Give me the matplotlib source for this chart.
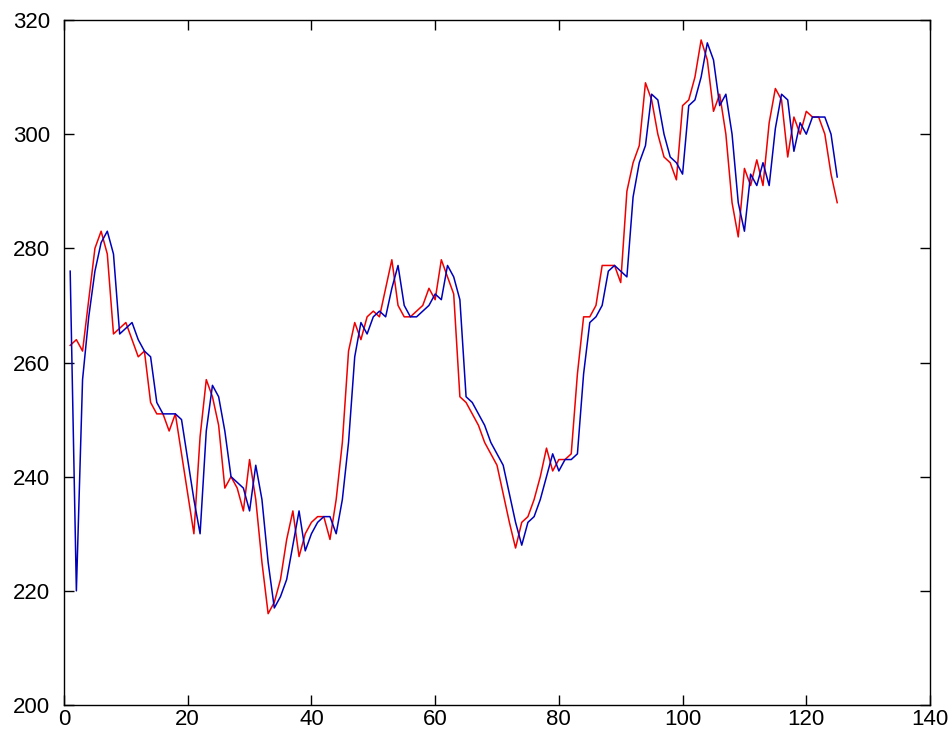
import matplotlib
matplotlib.use("Agg")
import matplotlib.pyplot as plt

plt.rcParams['font.family'] = ['Liberation Sans', 'DejaVu Sans']

actual = [263, 264, 262, 271, 280, 283, 279, 265, 266, 267,
          264, 261, 262, 253, 251, 251, 248, 251, 244, 237,
          230, 247, 257, 254, 249, 238, 240, 238, 234, 243,
          236, 225, 216, 218, 222, 229, 234, 226, 230, 232,
          233, 233, 229, 236, 246, 262, 267, 264, 268, 269,
          268, 273, 278, 270, 268, 268, 269, 270, 273, 271,
          278, 275, 272, 254, 253, 251, 249, 246, 244, 242,
          237, 232, 227.5, 232, 233, 236, 240, 245, 241, 243,
          243, 244, 258, 268, 268, 270, 277, 277, 277, 274,
          290, 295, 298, 309, 306, 300, 296, 295, 292, 305,
          306, 310, 316.5, 313, 304, 307, 300, 288, 282, 294,
          291, 295.5, 291, 302, 308, 306, 296, 303, 300, 304,
          303, 303, 300, 293, 288]

predicted = [276, 220, 257, 268, 276, 281, 283, 279, 265, 266,
             267, 264, 262, 261, 253, 251, 251, 251, 250, 243,
             236, 230, 248, 256, 254, 248, 240, 239, 238, 234,
             242, 236, 225, 217, 219, 222, 228, 234, 227, 230,
             232, 233, 233, 230, 236, 246, 261, 267, 265, 268,
             269, 268, 273, 277, 270, 268, 268, 269, 270, 272,
             271, 277, 275, 271, 254, 253, 251, 249, 246, 244,
             242, 237, 232, 228, 232, 233, 236, 240, 244, 241,
             243, 243, 244, 258, 267, 268, 270, 276, 277, 276,
             275, 289, 295, 298, 307, 306, 300, 296, 295, 293,
             305, 306, 310, 316, 313, 305, 307, 300, 288, 283,
             293, 291, 295, 291, 301, 307, 306, 297, 302, 300,
             303, 303, 303, 300, 292.5]

x_actual = list(range(1, len(actual) + 1))
x_pred = list(range(1, len(predicted) + 1))

xticks = [0, 20, 40, 60, 80, 100, 120, 140]
yticks = [200, 220, 240, 260, 280, 300, 320]

fig = plt.figure(figsize=(9.53, 7.40), dpi=100)
ax = fig.add_axes([64/953, 1 - 705/740, (930 - 64)/953, (705 - 20)/740])

ax.plot(x_actual, actual, color='#ee0000', linewidth=1.1)
ax.plot(x_pred, predicted, color='#0000bb', linewidth=1.1)

ax.set_xlim(0, 140)
ax.set_ylim(200, 320)
ax.set_xticks(xticks)
ax.set_yticks(yticks)
ax.tick_params(direction='in', length=7, width=1, top=True, right=True,
               labelsize=16, colors='black')
ax.tick_params(axis='x', pad=3)
ax.tick_params(axis='y', pad=10)
for s in ax.spines.values():
    s.set_linewidth(1.0)
    s.set_color('black')

fig.savefig('out.png', dpi=100)
